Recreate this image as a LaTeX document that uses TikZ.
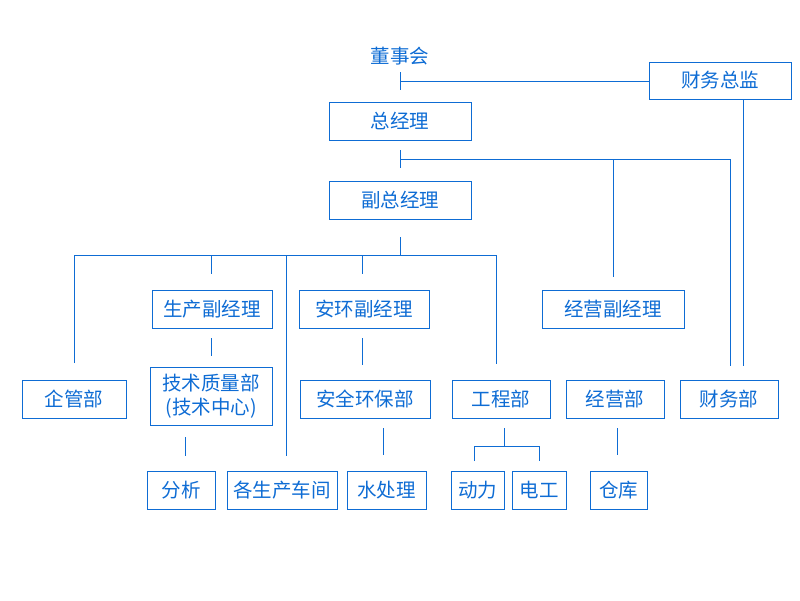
\documentclass[tikz,border=0pt]{standalone}
\usepackage{fontspec}
\setmainfont{Noto Sans CJK SC}
\definecolor{ob}{RGB}{14,108,212}
\begin{document}
\begin{tikzpicture}[x=1pt,y=-1pt,
  box/.style={draw=ob,line width=0.9pt,text=ob,inner sep=0pt,font=\fontsize{19.5}{24}\selectfont,align=center},
  ln/.style={draw=ob,line width=0.9pt}]
\useasboundingbox (0,0) rectangle (800,600);
% nodes
\node[text=ob,font=\fontsize{19.5}{24}\selectfont] (dsh) at (400,56) {董事会};
\node[box,minimum width=142pt,minimum height=37pt] (cwzj) at (720,80.5) {\raisebox{-1.5pt}{财务总监}};
\node[box,minimum width=142pt,minimum height=38pt] (zjl) at (400,121) {\raisebox{-1.5pt}{总经理}};
\node[box,minimum width=142pt,minimum height=38pt] (fzjl) at (400,200) {\raisebox{-1.5pt}{副总经理}};
\node[box,minimum width=120pt,minimum height=38pt] (scfjl) at (212,309) {\raisebox{-1.5pt}{生产副经理}};
\node[box,minimum width=130pt,minimum height=38pt] (ahfjl) at (364,309) {\raisebox{-1.5pt}{安环副经理}};
\node[box,minimum width=142pt,minimum height=38pt] (jyfjl) at (613,309) {\raisebox{-1.5pt}{经营副经理}};
\node[box,minimum width=104pt,minimum height=38pt] (qgb) at (74,399) {\raisebox{-1.5pt}{企管部}};
\node[box,minimum width=122pt,minimum height=58pt] (jszl) at (211,396) {技术质量部\\(技术中心)};
\node[box,minimum width=130pt,minimum height=38pt] (aqhb) at (365,399) {\raisebox{-1.5pt}{安全环保部}};
\node[box,minimum width=98pt,minimum height=38pt] (gcb) at (501,399) {\raisebox{-1.5pt}{工程部}};
\node[box,minimum width=98pt,minimum height=38pt] (jyb) at (615,399) {\raisebox{-1.5pt}{经营部}};
\node[box,minimum width=98pt,minimum height=38pt] (cwb) at (729,399) {\raisebox{-1.5pt}{财务部}};
\node[box,minimum width=68pt,minimum height=38pt] (fx) at (181,490) {\raisebox{-1.5pt}{分析}};
\node[box,minimum width=110pt,minimum height=38pt] (gscj) at (282,490) {\raisebox{-1.5pt}{各生产车间}};
\node[box,minimum width=79pt,minimum height=38pt] (ssl) at (386.5,490) {\raisebox{-1.5pt}{水处理}};
\node[box,minimum width=53pt,minimum height=38pt] (dl) at (477.5,490) {\raisebox{-1.5pt}{动力}};
\node[box,minimum width=54pt,minimum height=38pt] (dg) at (539,490) {\raisebox{-1.5pt}{电工}};
\node[box,minimum width=57pt,minimum height=38pt] (ck) at (618.5,490) {\raisebox{-1.5pt}{仓库}};
% coordinates
\coordinate (a1) at (400,72);
\coordinate (a2) at (400,90);
\coordinate (a3) at (400,81);
\coordinate (b1) at (400,150);
\coordinate (b2) at (400,168);
\coordinate (b3) at (400,159);
\coordinate (b4) at (613,277);
\coordinate (b5) at (730,366);
\coordinate (c1) at (743,366);
\coordinate (d1) at (400,237);
\coordinate (d2) at (400,255);
\coordinate (e1) at (74,363);
\coordinate (e2) at (211,274);
\coordinate (e3) at (286,456);
\coordinate (e4) at (362,274);
\coordinate (e5) at (496,364);
\coordinate (f1) at (211,338);
\coordinate (f2) at (211,356);
\coordinate (g1) at (362,338);
\coordinate (g2) at (362,365);
\coordinate (h1) at (185,437);
\coordinate (h2) at (185,456);
\coordinate (i1) at (383,428);
\coordinate (i2) at (383,455);
\coordinate (j1) at (504,428);
\coordinate (j2) at (504,446);
\coordinate (j3) at (474,461);
\coordinate (j4) at (539,461);
\coordinate (k1) at (617,428);
\coordinate (k2) at (617,455);
% connectors
\draw[ln] (a1) -- (a2);
\draw[ln] (a3) -- (cwzj.west |- a3);
\draw[ln] (b1) -- (b2);
\draw[ln] (b3) -- (b3 -| b5) -- (b5);
\draw[ln] (b4 |- b3) -- (b4);
\draw[ln] (cwzj.south -| c1) -- (c1);
\draw[ln] (d1) -- (d2);
\draw[ln] (e1) -- (e1 |- d2) -- (d2 -| e5) -- (e5);
\draw[ln] (e2 |- d2) -- (e2);
\draw[ln] (e3 |- d2) -- (e3);
\draw[ln] (e4 |- d2) -- (e4);
\draw[ln] (f1) -- (f2);
\draw[ln] (g1) -- (g2);
\draw[ln] (h1) -- (h2);
\draw[ln] (i1) -- (i2);
\draw[ln] (j1) -- (j2);
\draw[ln] (j3) -- (j3 |- j2) -- (j2 -| j4) -- (j4);
\draw[ln] (k1) -- (k2);
\end{tikzpicture}
\end{document}
